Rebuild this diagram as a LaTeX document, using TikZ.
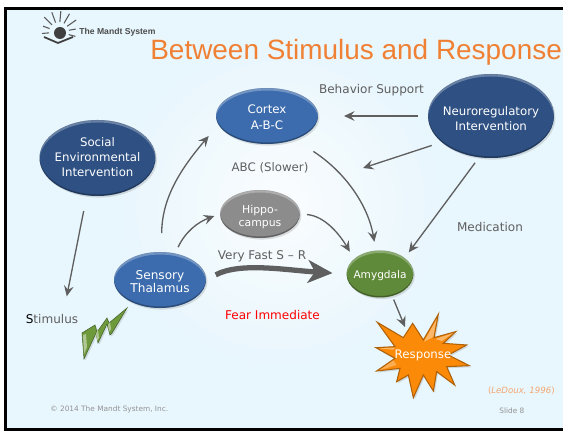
\documentclass[tikz,border=0pt]{standalone}
\usepackage{fontspec}
\setmainfont{DejaVu Sans}
\newfontfamily\titlefont{Liberation Sans}
\usetikzlibrary{arrows.meta, shadows, shapes.geometric}

\definecolor{slidebg}{HTML}{E8F6FD}
\definecolor{flowgray}{HTML}{5F5F5F}
\definecolor{darkblue}{HTML}{2E5082}
\definecolor{midblue}{HTML}{3C6CAD}
\definecolor{hippogray}{HTML}{8C8C8C}
\definecolor{amygreen}{HTML}{5F8A3A}
\definecolor{boltgreen}{HTML}{6F9A3C}
\definecolor{burst}{HTML}{FB8A08}
\definecolor{titleorange}{HTML}{F08033}

\def\U{0.02cm}		% One pixel of the slide

\tikzset{
	softshadow/.style = {drop shadow = {opacity = 0.25, shadow xshift = 0.8pt, shadow yshift = -0.9pt}},
	bubble/.style = {ellipse, inner sep = -12pt, outer sep = 0, softshadow},
	flow/.style = {->, draw = flowgray, line width = 0.75pt},
	caption/.style = {text = flowgray, inner sep = 0, font = \fontsize{6.85}{8.4}\selectfont},
	footer/.style = {text = gray!85, inner sep = 0, font = \fontsize{4.2}{5}\selectfont}
}

\begin{document}
\begin{tikzpicture}[> = {Stealth[length = 6pt, width = 5.5pt, inset = 2.2pt]}, x = \U, y = -\U]

	% Slide background and frame
	
	\useasboundingbox (0, 0) rectangle (563, 431);
	\fill [white] (0, 0) rectangle (563, 431);
	\fill [slidebg] (6, 9) rectangle (563, 429);
	\begin{scope}
		\clip (6, 9) rectangle (563, 429);
		\shade [inner color = white, outer color = slidebg, opacity = 0.8] (280, 205) circle (170);
	\end{scope}
	\draw [line width = 1.2pt] (563, 8.5) -- (5.5, 8.5) -- (5.5, 429.5) -- (563, 429.5);
	
	% Logo
	
	\foreach \a in {-15, 10, ..., 195}
		\draw [black!65, line width = 0.6pt] (59, 32) ++(-\a:10) -- ++(-\a:{\a > 30 && \a < 150 ? 11 : 7});
	\fill [black!75] (60, 33) circle (6);
	\draw [black!75, line width = 1pt] (44, 37) -- (58, 43) -- (73, 37);
	\node (brand) [anchor = west, inner sep = 0, text = black!70, font = \titlefont\bfseries\fontsize{4.9}{6}\selectfont] at (79, 32) {The Mandt System};
	
	% Title
	
	\node (title) [anchor = west, inner sep = 0, text = titleorange, font = \titlefont\fontsize{15.9}{19}\selectfont] at (150, 52) {Between Stimulus and Response};
	
	% Ellipses
	
	\foreach \name/\x/\y/\rx/\ry/\col/\fs/\ls/\dy/\txt in {
		social/97.5/158/58/38/darkblue/6.7/8.5/-1/{Social\\Environmental\\Intervention},
		neuro/491/116/63/42/darkblue/6.7/8.5/2.5/{Neuroregulatory\\Intervention},
		cortex/267/116/51/28/midblue/6.7/8.8/1/{Cortex\\A-B-C},
		thalamus/160/280/46/28/midblue/6.9/7.8/1.5/{Sensory\\Thalamus},
		hippo/260/214/40/24/hippogray/6.2/7.4/2.5/{Hippo-\\campus},
		amygdala/380/274/33.5/23.5/amygreen/6/8/2/{Amygdala}} {
		\node (\name) [bubble, fill = \col, minimum width = {2 * \rx * \U}, minimum height = {2 * \ry * \U}] at (\x, \y) {};
		\begin{scope}
			\clip (\x, \y) ellipse ({\rx} and {\ry});
			\fill [white, opacity = 0.28, even odd rule] (\x, \y) ellipse ({\rx} and {\ry}) (\x, \y + 2.5) ellipse ({\rx} and {\ry});
			\fill [black, opacity = 0.3, even odd rule] (\x, \y) ellipse ({\rx} and {\ry}) (\x, \y - 1.5) ellipse ({\rx} and {\ry});
		\end{scope}
		\node (\name text) [text = white, align = center, inner sep = 0, font = \fontsize{\fs}{\ls}\selectfont] at (\x, \y + \dy) {\txt};
	}
	
	% Response burst
	
	\begin{scope}[xshift = 280 * \U, yshift = -215 * \U, x = \U / 3, y = -\U / 3]
		\filldraw [fill = burst, draw = burst!70!black, line width = 0.6pt, softshadow]
			(292, 322) -- (370, 368) -- (398, 325) -- (430, 375) -- (475, 298) -- (462, 368) -- (527, 350) -- (490, 385) -- (560, 390) -- (505, 420) -- (568, 452) -- (500, 455) -- (524, 510) -- (470, 470) -- (460, 528) -- (430, 480) -- (400, 548) -- (385, 480) -- (350, 500) -- (360, 460) -- (290, 468) -- (345, 430) -- (288, 398) -- (345, 395) -- cycle;
		\fill [white, opacity = 0.4] (432, 380) -- (470, 312) -- (460, 366) -- cycle;
		\fill [white, opacity = 0.4] (466, 372) -- (520, 354) -- (486, 378) -- cycle;
		\fill [white, opacity = 0.4] (296, 400) -- (345, 398) -- (340, 404) -- cycle;
		\fill [white, opacity = 0.3] (298, 466) -- (340, 436) -- (350, 450) -- cycle;
	\end{scope}
	\node (response) [inner sep = 0, text = white, font = \fontsize{6.7}{8}\selectfont] at (423, 355) {Response};
	
	% Lightning bolt
	
	\filldraw [fill = boltgreen, draw = amygreen!70!black, line width = 0.3pt, softshadow]
		(82, 333) -- (95, 325) -- (97, 332) -- (107, 318) -- (109, 323) -- (127, 308) -- (112, 333) -- (110, 335) -- (107, 324) -- (98, 343) -- (96, 333) -- (84, 359) -- cycle;
	\fill [boltgreen!55!white] (83, 335) -- (86, 334) -- (87, 347) -- (84, 354) -- cycle;
	\fill [boltgreen!55!white] (96, 334) -- (98, 329) -- (99, 338) -- (97, 341) -- cycle;
	\fill [boltgreen!55!white] (108, 325) -- (110, 322) -- (111, 329) -- (109, 332) -- cycle;
	
	% Labels
	
	\node (support) [caption] at (371.5, 90) {Behavior Support};
	\node (slower) [caption, font = \fontsize{6.7}{8.4}\selectfont] at (270, 168) {ABC (Slower)};
	\node (fast) [caption] at (262, 256) {Very Fast S – R};
	\node (medication) [caption] at (490, 227) {Medication};
	\node (fear) [caption, text = red] at (272.5, 315) {Fear Immediate};
	\node (stimulus) [caption, minimum width = 52 * \U] at (52, 319) {\textcolor{black}{S}timulus};
	\node (citation) [anchor = east, inner sep = 0, text = titleorange!70, font = \fontsize{4.9}{6}\selectfont] at (555, 391) {(\textit{LeDoux, 1996})};
	\node (copyright) [footer, anchor = west] at (50, 409) {© 2014 The Mandt System, Inc.};
	\node (slide) [footer, anchor = west] at (499, 411) {Slide 8};
	
	% Free ends
	
	\coordinate (slowend) at (363, 168);
	\coordinate (burstend) at (405, 327);
	
	% Straight connectors
	
	\draw [flow, shorten < = 16 * \U, shorten > = 18 * \U] (social.254) -- (stimulus.24);
	\draw [flow, shorten < = 10 * \U, shorten > = 26 * \U] (neuro.west) -- (cortex.east);
	\draw [flow, shorten < = 10.5 * \U] (neuro.208) -- (slowend);
	\draw [flow, shorten < = 7 * \U, shorten > = 7 * \U] (neuro.254) -- (amygdala.33);
	\draw [flow, shorten < = 4 * \U] (amygdala.-61) -- (burstend);
	
	% Curved connectors
	
	\draw [flow, shorten < = 19 * \U, shorten > = 15 * \U] (thalamus.87) .. controls (162, 200) and (178, 172) .. (cortex.190);
	\draw [flow, shorten < = 7 * \U, shorten > = 6 * \U] (thalamus.60) .. controls (185, 232) and (198, 222) .. (hippo.180);
	\draw [flow, shorten < = 22 * \U, shorten > = 9 * \U] (cortex.-40) .. controls (345, 172) and (368, 205) .. (amygdala.100);
	\draw [flow, shorten < = 7 * \U, shorten > = 8.5 * \U] (hippo.east) .. controls (325, 216) and (340, 235) .. (amygdala.150);
	
	% Fast route
	
	\draw [->, draw = flowgray, line width = 3pt, > = {Stealth[length = 14pt, width = 13pt, inset = 4pt]}, shorten < = 11 * \U, shorten > = 14 * \U] (thalamus.east) .. controls (240, 262) and (285, 270) .. (amygdala.west);

\end{tikzpicture}
\end{document}
